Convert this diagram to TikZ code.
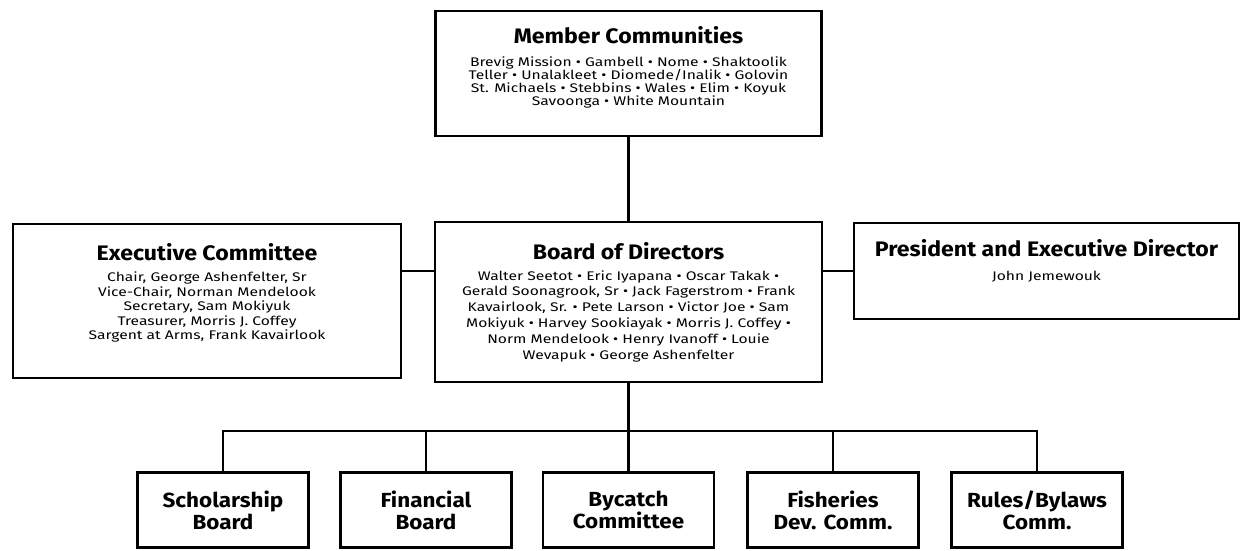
\documentclass[tikz,border=0pt]{standalone}
\usepackage{fontspec}
\setmainfont[FakeStretch=1.25,BoldFeatures={FakeStretch=1.1}]{Fira Sans}
\newcommand{\boxtitle}[1]{{\fontsize{21}{24}\selectfont\bfseries #1}}
\begin{document}
\begin{tikzpicture}[x=1pt,y=-1pt,line width=2.5pt,
    orgbox/.style={draw,align=center,inner sep=0pt,
      font=\fontsize{12.5}{14.5}\selectfont},
    subbox/.style={draw,align=center,inner sep=0pt,minimum width=171pt,minimum height=75pt,
      font=\fontsize{20.4}{22}\selectfont\bfseries}]
    \useasboundingbox (0,0) rectangle (1242,550);

    \node[orgbox,minimum width=386pt,minimum height=125pt,font=\fontsize{12.5}{13.3}\selectfont] at (628.5,73.5) (MC)
        {\boxtitle{Member Communities}\\[9.5pt]
         Brevig Mission • Gambell • Nome • Shaktoolik\\
         Teller • Unalakleet • Diomede/Inalik • Golovin\\
         St. Michaels • Stebbins • Wales • Elim • Koyuk\\
         Savoonga • White Mountain\\[1.5pt]\mbox{}};

    \node[orgbox,minimum width=387pt,minimum height=160pt,font=\fontsize{12.5}{15.8}\selectfont] at (628.5,302) (BoD)
        {\boxtitle{Board of Directors}\\[5pt]
         Walter Seetot • Eric Iyapana • Oscar Takak •\\
         Gerald Soonagrook, Sr • Jack Fagerstrom • Frank\\
         Kavairlook, Sr. • Pete Larson • Victor Joe • Sam\\
         Mokiyuk • Harvey Sookiayak • Morris J. Coffey •\\
         Norm Mendelook • Henry Ivanoff • Louie\\
         Wevapuk • George Ashenfelter};

    \node[orgbox,minimum width=388pt,minimum height=154pt] at (207,301) (EC)
        {\boxtitle{Executive Committee}\\[6.5pt]
         Chair, George Ashenfelter, Sr\\
         Vice-Chair, Norman Mendelook\\
         Secretary, Sam Mokiyuk\\
         Treasurer, Morris J. Coffey\\
         Sargent at Arms, Frank Kavairlook\\[4.5pt]\mbox{}};

    \node[orgbox,minimum width=385pt,minimum height=96pt] at (1046.5,271) (Pres)
        {\boxtitle{President and Executive Director}\\[9.5pt]
         John Jemewouk\\[8pt]\mbox{}};

    % committees
    \node[subbox] at (223,510) (S1) {Scholarship\\Board};
    \node[subbox] at (426,510) (S2) {Financial\\Board};
    \node[subbox] at (628.5,510) (S3) {Bycatch\\Committee};
    \node[subbox] at (833,510) (S4) {Fisheries\\Dev. Comm.};
    \node[subbox] at (1037,510) (S5) {Rules/Bylaws\\Comm.};

    \coordinate (bus) at (628.5,431);

    \draw (MC.south) -- (BoD.north);
    \draw (EC.east |- Pres.west) -- (BoD.west |- Pres.west);
    \draw (BoD.east |- Pres.west) -- (Pres.west);
    \draw (BoD.south) -- (bus);
    \draw (S1.north) |- (bus) -| (S5.north);
    \draw (S2.north) -- (S2.north |- bus);
    \draw (S3.north) -- (bus);
    \draw (S4.north) -- (S4.north |- bus);
\end{tikzpicture}
\end{document}
